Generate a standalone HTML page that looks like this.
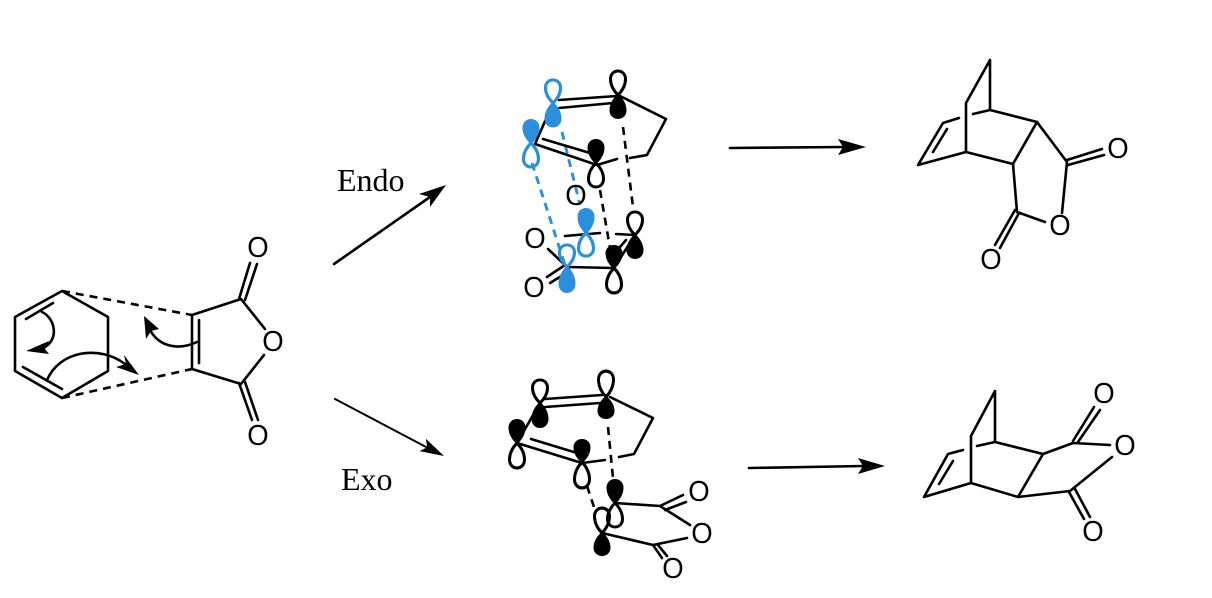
<!DOCTYPE html>
<html><head><meta charset="utf-8"><style>
html,body{margin:0;padding:0;background:#fff}
svg{display:block}
.b{fill:none;stroke:#000;stroke-width:2.6;stroke-linecap:round;stroke-linejoin:round}
.d{fill:none;stroke:#000;stroke-width:2.6;stroke-dasharray:8 6}
.u{fill:none;stroke:#2b90dc;stroke-width:2.9;stroke-dasharray:8 6}
.o{font-family:"Liberation Sans",sans-serif;font-size:29px;fill:#000;text-anchor:middle}
.t{font-family:"Liberation Serif",serif;font-size:32px;fill:#000}
.ke{fill:#fff;fill-opacity:0;stroke:#000;stroke-width:3;vector-effect:non-scaling-stroke}
.kf{fill:#000;stroke:#000;stroke-width:2;vector-effect:non-scaling-stroke}
.be{fill:#fff;fill-opacity:0;stroke:#2b90dc;stroke-width:3.2;vector-effect:non-scaling-stroke}
.bf{fill:#2b90dc;stroke:#2b90dc;stroke-width:2;vector-effect:non-scaling-stroke}
</style></head><body>
<svg width="1212" height="598" viewBox="0 0 1212 598" xmlns="http://www.w3.org/2000/svg">
<defs><path id="l" d="M0 0C-4-4-7.500-9-7.500-16C-7.500-21-4-24 0-24C4-24 7.500-21 7.500-16C7.500-9 4-4 0 0Z"/></defs>

<!-- reactants -->
<path class="b" d="M62 291L15 317V371L62 398L108 371V317ZM26 319L53 303M23 367L62 389"/>
<path class="d" d="M62 291L192 315M62 398L192 369"/>
<path class="b" d="M192 315V369M199 320V363M192 315L241 299L265 329M192 369L241 384L264 355M239 299L250 263M245 300L257 264M239 383L252 420M245 382L258 420"/>
<text class="o" transform="translate(258 257) scale(.95 1)">O</text><text class="o" transform="translate(273 351) scale(.95 1)">O</text><text class="o" transform="translate(258 445) scale(.95 1)">O</text>
<path class="b" d="M42 312C55 318 60 340 43 348M47 380C60 350 100 345 125 364M197 342C180 350 160 348 150 330"/>
<path d="M26 351L49 341L45 349L49 354ZM139 375L124 355L126 364L116 367ZM144 316L146 339L151 331L159 329Z"/>

<!-- reaction arrows -->
<path class="b" d="M334 264L430 197"/>
<path class="b" style="stroke-width:2" d="M335 399L428 448"/>
<path class="b" d="M730 148L845 147M749 468L864 466"/>
<path d="M446 185L430 207L430 197L419 194ZM444 456L419.500 451.100L427.200 447.200L425.900 438.700ZM866 147L838 139L843 147L838 155ZM885 466L858 458L863 466L858 474Z"/>
<text class="t" x="337" y="191">Endo</text><text class="t" x="341" y="490">Exo</text>

<!-- endo TS -->
<path class="u" d="M562 132L580 205M532 163L565 265"/>
<path class="d" d="M623 127L633 207M600 190L610 248"/>
<path class="b" d="M553 103L535 144L597 165M559 100L617 96M559 108L613 103M543 139L590 153M620 96L666 119L647 155L630 158M617 159L597 165"/>
<path class="b" d="M565 236L600 233M616 234L635 235M548 249L567 267L614 268L635 235M547 277L565 265M550 283L568 272M620 247L626 240"/>
<text class="o" transform="translate(576 205) scale(.95 1)">O</text><text class="o" transform="translate(535 248) scale(.95 1)">O</text><text class="o" transform="translate(534 297) scale(.95 1)">O</text>
<use href="#l" class="be" transform="translate(553 103) scale(1 .96)"/>
<use href="#l" class="bf" transform="translate(553 103) scale(1 -.98)"/>
<use href="#l" class="bf" transform="translate(531 143) scale(1 .96)"/>
<use href="#l" class="be" transform="translate(531 143) scale(1 -1)"/>
<use href="#l" class="ke" transform="translate(618 95) scale(1 1)"/>
<use href="#l" class="kf" transform="translate(618 95) scale(1 -.96)"/>
<use href="#l" class="kf" transform="translate(596 163) scale(1 .96)"/>
<use href="#l" class="ke" transform="translate(596 163) scale(1 -1)"/>
<use href="#l" class="bf" transform="translate(586 233) scale(1 1)"/>
<use href="#l" class="be" transform="translate(586 233) scale(1 -.96)"/>
<use href="#l" class="ke" transform="translate(635 235) scale(1 .96)"/>
<use href="#l" class="kf" transform="translate(635 235) scale(1 -.96)"/>
<use href="#l" class="be" transform="translate(567 267) scale(1 .92)"/>
<use href="#l" class="bf" transform="translate(567 267) scale(1 -1.04)"/>
<use href="#l" class="kf" transform="translate(614 268) scale(1 .92)"/>
<use href="#l" class="ke" transform="translate(614 268) scale(1 -1.04)"/>

<!-- exo TS -->
<path class="d" d="M608 427L613 478M587 486L595 510"/>
<path class="b" d="M540 403L517 443L582 463L605 460M545 399L602 395M545 407L600 403M531 439L577 453M610 397L653 418L634 454L619 457"/>
<path class="b" d="M615 503L660 506L690 525M660 506L683 495M665 510L686 502M602 533L653 545L687 538M653 545L662 558M658 545L667 556"/>
<text class="o" transform="translate(699 501) scale(.95 1)">O</text><text class="o" transform="translate(702 543) scale(.95 1)">O</text><text class="o" transform="translate(673 578) scale(.95 1)">O</text>
<use href="#l" class="ke" transform="translate(540 403) scale(1 .96)"/>
<use href="#l" class="kf" transform="translate(540 403) scale(1 -1)"/>
<use href="#l" class="ke" transform="translate(606 397) scale(1 1.08)"/>
<use href="#l" class="kf" transform="translate(606 397) scale(1 -.88)"/>
<use href="#l" class="kf" transform="translate(517 443) scale(1 .96)"/>
<use href="#l" class="ke" transform="translate(517 443) scale(1 -1.04)"/>
<use href="#l" class="kf" transform="translate(582 462) scale(1 .92)"/>
<use href="#l" class="ke" transform="translate(582 462) scale(1 -1.08)"/>
<use href="#l" class="kf" transform="translate(615 503) scale(1 .96)"/>
<use href="#l" class="ke" transform="translate(615 503) scale(1 -1)"/>
<use href="#l" class="ke" transform="translate(602 533) scale(1 1.04)"/>
<use href="#l" class="kf" transform="translate(602 533) scale(1 -.92)"/>

<!-- endo product -->
<path class="b" d="M990 60L966 103V152L1013 164L1037 122L990 110V60M990 110L973 114M959 118L943 123L918 165L966 152M947 129L933 152M1037 122L1067 162L1062 213M1013 164L1017 212L1045 222M1067 160L1102 149M1068 165L1104 155M1015 210L995 245M1019 213L1000 248"/>
<text class="o" transform="translate(1118 158) scale(.95 1)">O</text><text class="o" transform="translate(1060 235) scale(.95 1)">O</text><text class="o" transform="translate(991 269) scale(.95 1)">O</text>

<!-- exo product -->
<path class="b" d="M995 391L971 436V483L1018 497L1043 454L995 442V391M995 442L977 446M963 450L948 454L924 497L971 483M953 461L939 484M1043 454L1073 443L1110 445M1018 497L1070 491L1112 457M1073 441L1094 407M1078 442L1100 410M1069 492L1084 519M1075 489L1090 517"/>
<text class="o" transform="translate(1125 455) scale(.95 1)">O</text><text class="o" transform="translate(1104 403) scale(.95 1)">O</text><text class="o" transform="translate(1093 541) scale(.95 1)">O</text>
</svg>
</body></html>
